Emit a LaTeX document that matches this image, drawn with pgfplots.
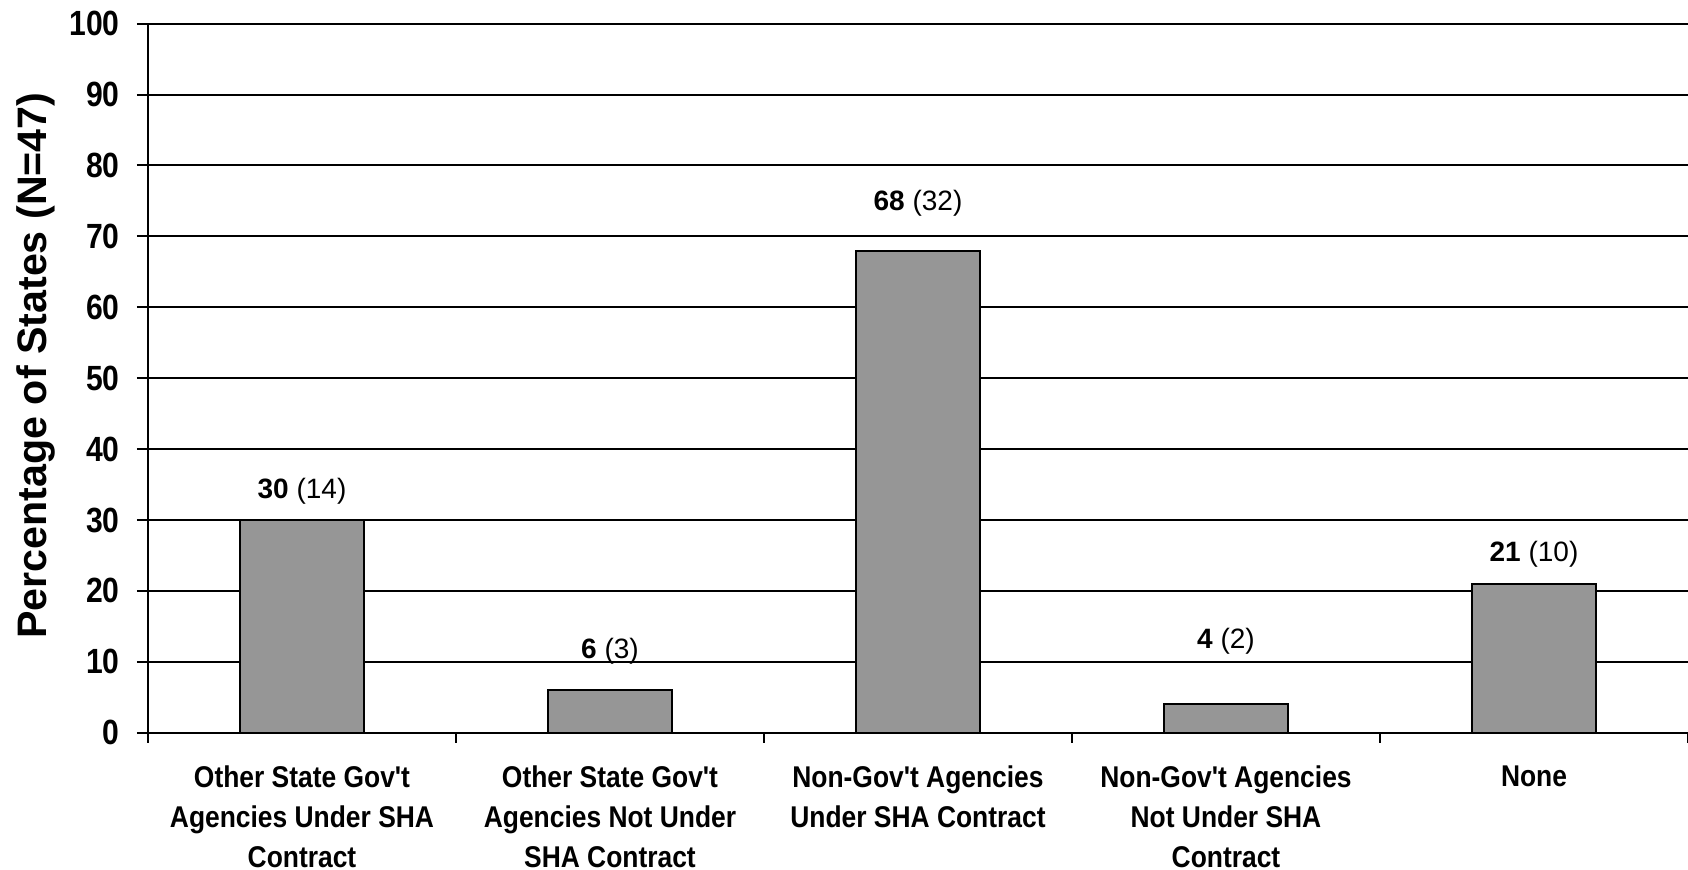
\documentclass[border=0pt]{standalone}
\usepackage{pgfplots}
\pgfplotsset{compat=1.18}
\usepackage{pgfplotstable}
\usepackage{fontspec}
\setmainfont{Liberation Sans}
\newfontfamily\xlabfont[FakeStretch=0.88,Ligatures=TeXOff]{Liberation Sans}
\newfontfamily\ytickfont[FakeStretch=0.86]{Liberation Sans}
\definecolor{barfill}{RGB}{150,150,150}
\pgfplotstableread{
x y n ly
0 30 14 33.1
1 6 3 10.5
2 68 32 73.7
3 4 2 11.9
4 21 10 24.1
}\datatable
\begin{document}
\begin{tikzpicture}
\path[use as bounding box] (0,0) rectangle (844pt,435pt);
\begin{axis}[
  at={(74pt,68.65pt)}, anchor=south west,
  width=770pt, height=354.5pt, scale only axis,
  xmin=-0.5, xmax=4.5, ymin=0, ymax=100,
  axis x line*=bottom, axis y line*=left,
  axis line style={line width=1pt, -},
  ytick={0,10,...,100},
  ymajorgrids, major grid style={black, line width=1pt},
  tick align=outside,
  major tick length=5.5pt,
  minor tick length=5pt,
  tick style={black, line width=1pt},
  xtick={0,1,2,3,4},
  major x tick style={draw=none},
  minor xtick={-0.5,0.5,...,4.5},
  xticklabels={{Other State Gov'{}t\\Agencies Under SHA\\Contract},
               {Other State Gov'{}t\\Agencies Not Under\\SHA Contract},
               {Non-Gov'{}t Agencies\\Under SHA Contract},
               {Non-Gov'{}t Agencies\\Not Under SHA\\Contract},
               {None}},
  xticklabel style={font=\xlabfont\bfseries\fontsize{15}{20}\selectfont, align=center, anchor=north, inner sep=0pt, yshift=-10.75pt},
  yticklabel style={font=\ytickfont\bfseries\fontsize{17.5}{17.5}\selectfont, inner sep=0pt, xshift=-8.5pt},
  /pgf/number format/assume math mode=true,
  clip=false,
]
\addplot[ybar, bar width=0.4, fill=barfill, draw=black, line width=1pt]
  table[x=x, y=y] {\datatable};
\addplot[draw=none, mark=none,
  visualization depends on={\thisrow{y}\as\yv},
  visualization depends on={\thisrow{n}\as\cnt},
  nodes near coords={\textbf{\pgfmathprintnumber{\yv}} (\pgfmathprintnumber{\cnt})},
  every node near coord/.append style={anchor=base, inner sep=0pt, font=\fontsize{14}{14}\selectfont, text=black}]
  table[x=x, y=ly] {\datatable};
\node[rotate=90, anchor=base, font=\bfseries\fontsize{20.6}{20.6}\selectfont]
  at ([xshift=-50.5pt,yshift=6.3pt]rel axis cs:0,0.5) {Percentage of States (N=47)};
\end{axis}
\end{tikzpicture}
\end{document}
